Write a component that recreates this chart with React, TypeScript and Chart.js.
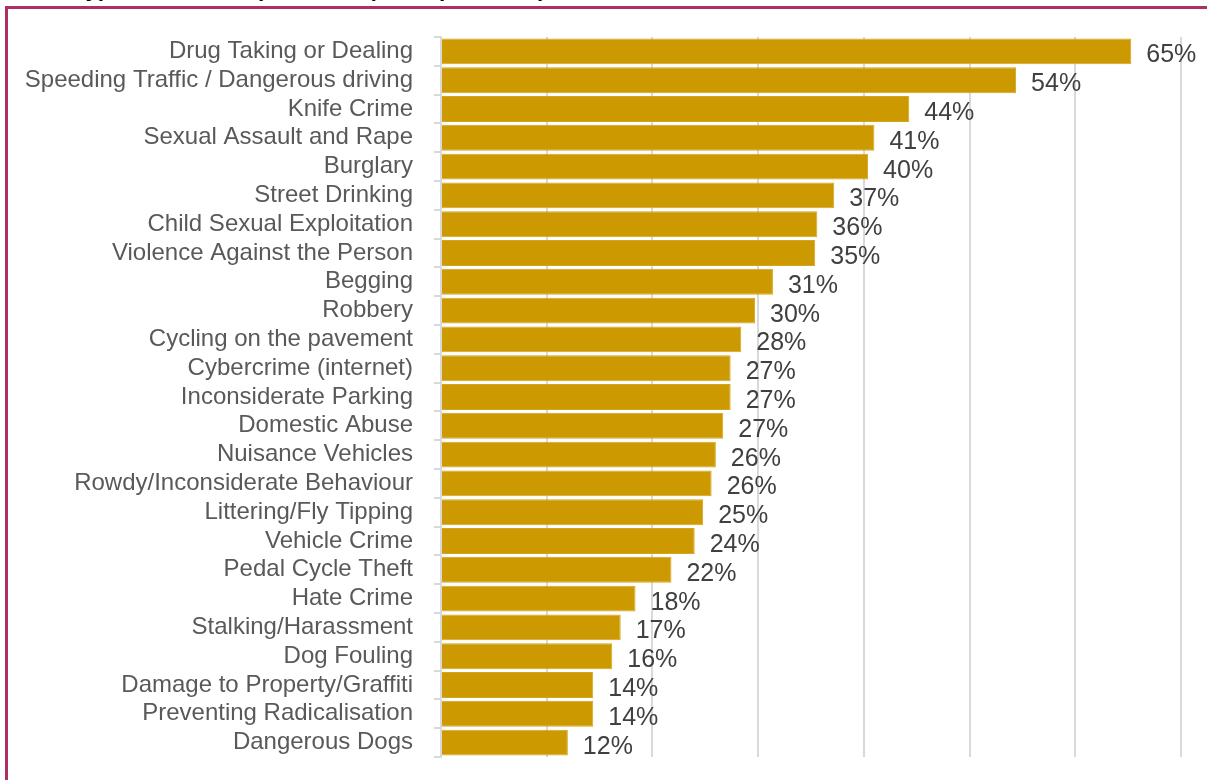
import React, { useEffect, useRef } from "react";
import { Chart, registerables } from "chart.js";

Chart.register(...registerables);

const categories: string[] = [
  "Drug Taking or Dealing",
  "Speeding Traffic / Dangerous driving",
  "Knife Crime",
  "Sexual Assault and Rape",
  "Burglary",
  "Street Drinking",
  "Child Sexual Exploitation",
  "Violence Against the Person",
  "Begging",
  "Robbery",
  "Cycling on the pavement",
  "Cybercrime (internet)",
  "Inconsiderate Parking",
  "Domestic Abuse",
  "Nuisance Vehicles",
  "Rowdy/Inconsiderate Behaviour",
  "Littering/Fly Tipping",
  "Vehicle Crime",
  "Pedal Cycle Theft",
  "Hate Crime",
  "Stalking/Harassment",
  "Dog Fouling",
  "Damage to Property/Graffiti",
  "Preventing Radicalisation",
  "Dangerous Dogs",
];

// bar lengths (percent)
const values: number[] = [
  65.3, 54.4, 44.3, 41.0, 40.4, 37.2, 35.6, 35.4, 31.4, 29.7,
  28.4, 27.4, 27.4, 26.7, 26.0, 25.6, 24.8, 24.0, 21.8, 18.4,
  17.0, 16.2, 14.4, 14.4, 12.0,
];

// printed value labels
const valueLabels: string[] = [
  "65%", "54%", "44%", "41%", "40%", "37%", "36%", "35%", "31%", "30%",
  "28%", "27%", "27%", "27%", "26%", "26%", "25%", "24%", "22%", "18%",
  "17%", "16%", "14%", "14%", "12%",
];

const xMin = 0;
const xMax = 70;
const xStep = 10;

const titleText = "Types of crime experienced (all respondents)";

const FONT = "'Liberation Sans', Arial, Helvetica, sans-serif";

export default function App() {
  const ref = useRef<HTMLCanvasElement | null>(null);

  useEffect(() => {
    document.body.style.margin = "0";
    const canvas = ref.current;
    if (!canvas) return;

    const valueLabelPlugin = {
      id: "valueLabelPlugin",
      afterDatasetsDraw(chart: any) {
        const ctx = chart.ctx;
        const meta = chart.getDatasetMeta(0);
        ctx.save();
        ctx.font = `25px ${FONT}`;
        ctx.fillStyle = "#404040";
        ctx.textAlign = "left";
        ctx.textBaseline = "alphabetic";
        meta.data.forEach((bar: any, i: number) => {
          ctx.fillText(valueLabels[i], bar.x + 15, bar.y + 11);
        });
        ctx.restore();
      },
    };

    const chart = new Chart(canvas, {
      type: "bar",
      data: {
        labels: categories,
        datasets: [
          {
            data: values,
            backgroundColor: "#CC9900",
            borderColor: "#D6A520",
            borderWidth: 1,
            barPercentage: 0.9,
            categoryPercentage: 1,
          },
        ],
      },
      options: {
        indexAxis: "y",
        responsive: false,
        animation: false,
        layout: { padding: { top: 37, bottom: 23, right: 26, left: 0 } },
        plugins: {
          legend: { display: false },
          tooltip: { enabled: false },
          title: { display: false },
        },
        scales: {
          x: {
            min: xMin,
            max: xMax,
            ticks: { display: false, stepSize: xStep },
            grid: { color: "#d9d9d9", lineWidth: 2, drawTicks: false },
            border: { display: false },
            afterFit: (s: any) => {
              s.height = 0;
              s.paddingLeft = 0;
              s.paddingRight = 0;
            },
          },
          y: {
            ticks: {
              autoSkip: false,
              color: "#595959",
              font: { family: FONT, size: 24 },
              padding: 21,
            },
            grid: {
              offset: true,
              drawOnChartArea: false,
              tickLength: 7,
              color: "#d9d9d9",
              lineWidth: 2,
            },
            border: { color: "#d9d9d9", width: 2 },
            afterFit: (s: any) => {
              s.width = 441;
              s.paddingTop = 0;
              s.paddingBottom = 0;
            },
          },
        },
      },
      plugins: [valueLabelPlugin],
    } as any);

    return () => chart.destroy();
  }, []);

  return (
    <div
      style={{
        position: "fixed",
        left: 0,
        top: 0,
        width: 1207,
        height: 780,
        overflow: "hidden",
        background: "#ffffff",
      }}
    >
      <div
        style={{
          position: "absolute",
          left: 75,
          top: -22,
          fontFamily: FONT,
          fontSize: 22,
          lineHeight: "22px",
          fontStyle: "italic",
          fontWeight: "bold",
          color: "#000000",
          whiteSpace: "nowrap",
        }}
      >
        {titleText}
      </div>
      <div
        style={{
          position: "absolute",
          left: 5,
          top: 6,
          width: 1300,
          height: 900,
          borderLeft: "3px solid #AE2F64",
          borderTop: "3px solid #AE2F64",
        }}
      />
      <canvas
        ref={ref}
        width={1207}
        height={780}
        style={{ position: "absolute", left: 0, top: 0, width: 1207, height: 780 }}
      />
    </div>
  );
}
